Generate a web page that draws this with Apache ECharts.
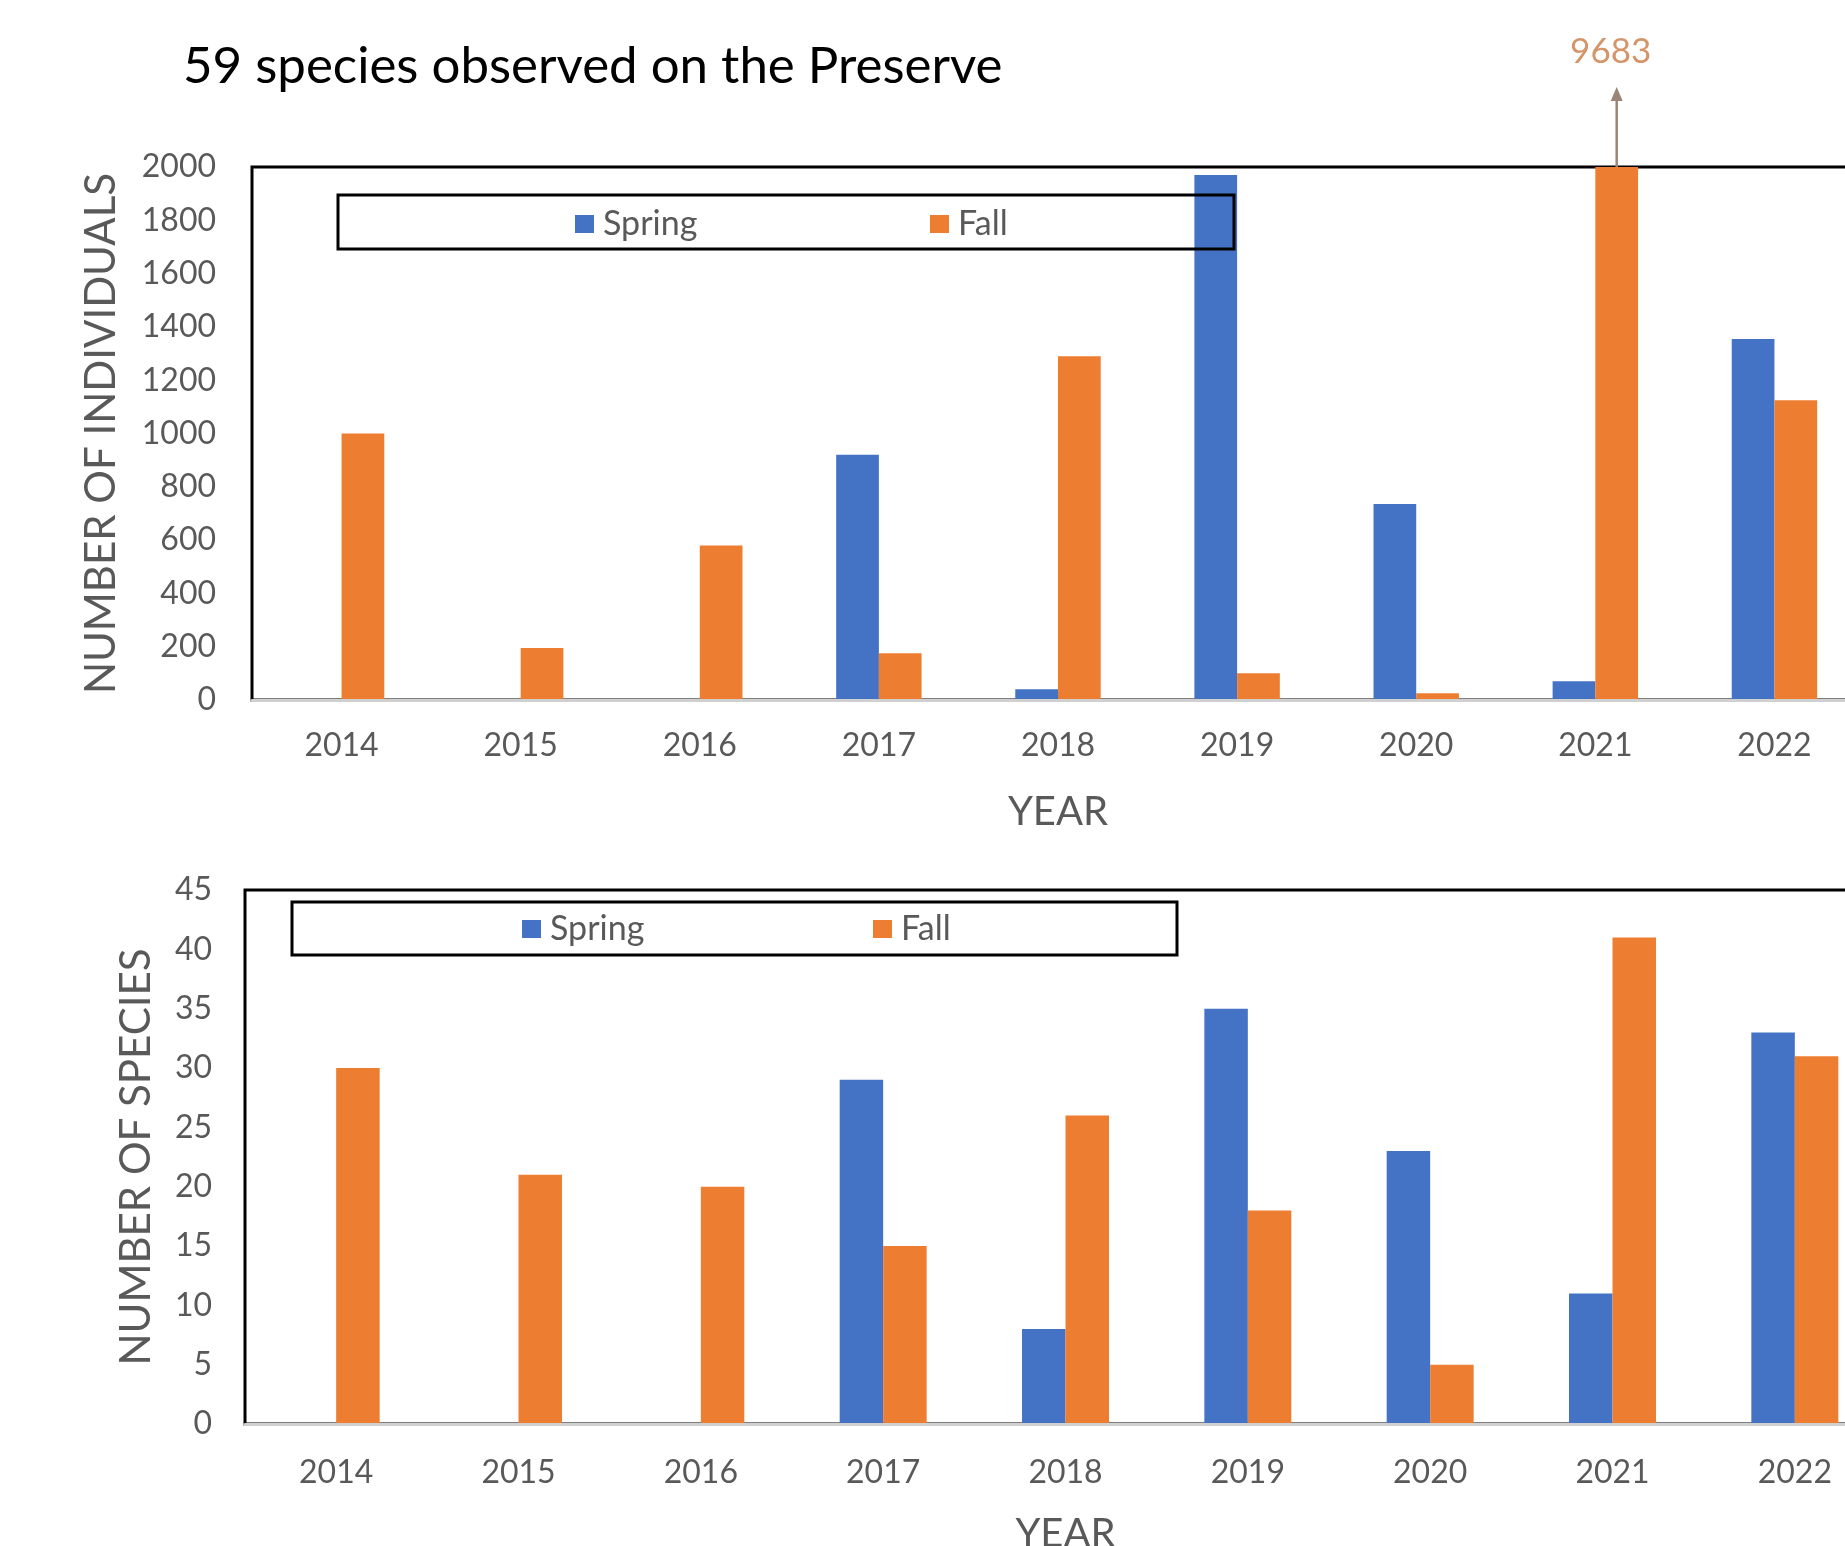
<!DOCTYPE html>
<html>
<head>
<meta charset="utf-8">
<script src="https://cdn.jsdelivr.net/npm/echarts@6/dist/echarts.min.js"></script>
<style>
  html, body { margin: 0; padding: 0; background: #fff; }
  #chart { width: 1845px; height: 1546px; }
</style>
</head>
<body>
<div id="chart"></div>
<script>
// Survey years
const years = ['2014', '2015', '2016', '2017', '2018', '2019', '2020', '2021', '2022'];

// Number of individuals counted per season
const individualsSpring = [null, null, null, 920, 40, 1970, 735, 70, 1355];
const individualsFall   = [1000, 195, 580, 175, 1290, 100, 25, 9683, 1125];

// Number of species recorded per season
const speciesSpring = [null, null, null, 29, 8, 35, 23, 11, 33];
const speciesFall   = [30, 21, 20, 15, 26, 18, 5, 41, 31];

// Value axis ranges
const individualsAxis = { min: 0, max: 2000, interval: 200 };
const speciesAxis = { min: 0, max: 45, interval: 5 };

const FONT = 'Lato, "Open Sans", sans-serif';
const GREY = '#595959';
const BLUE = '#4472C4';
const ORANGE = '#ED7D31';

const chart = echarts.init(document.getElementById('chart'), null, { renderer: 'canvas' });

function categoryAxis(gridIndex, labelMargin, nameGap) {
  return {
    gridIndex,
    type: 'category',
    data: years,
    z: 5,
    axisLine: { show: true, lineStyle: { color: '#D0D0D0', width: 3 } },
    axisTick: { show: false },
    axisLabel: { color: GREY, fontSize: 32, fontFamily: FONT, margin: labelMargin },
    name: 'YEAR',
    nameLocation: 'middle',
    nameGap,
    nameTextStyle: { color: GREY, fontSize: 40, fontFamily: FONT }
  };
}

function valueAxis(gridIndex, range, name, nameGap, labelMargin) {
  return {
    gridIndex,
    type: 'value',
    min: range.min,
    max: range.max,
    interval: range.interval,
    axisLine: { show: false },
    axisTick: { show: false },
    splitLine: { show: false },
    axisLabel: { color: GREY, fontSize: 32, fontFamily: FONT, margin: labelMargin,
                 formatter: v => String(v) },
    name,
    nameLocation: 'middle',
    nameGap,
    nameTextStyle: { color: GREY, fontSize: 42, fontFamily: FONT }
  };
}

function barSeries(name, color, data, axisIndex) {
  return {
    name,
    type: 'bar',
    xAxisIndex: axisIndex,
    yAxisIndex: axisIndex,
    data,
    barGap: '0%',
    barCategoryGap: '52.3%',
    itemStyle: { color },
    emphasis: { disabled: true },
    animation: false
  };
}

function seasonLegend(id, name, left, top) {
  return {
    id,
    data: [name],
    left,
    top,
    orient: 'horizontal',
    icon: 'rect',
    itemWidth: 19,
    itemHeight: 18,
    padding: 0,
    selectedMode: false,
    textStyle: { color: GREY, fontSize: 34, fontFamily: FONT, lineHeight: 36, padding: [0, 0, 0, 4] }
  };
}

const legendBoxes = [
  { id: 'box-top', type: 'rect', z: 100, shape: { x: 338, y: 195, width: 896, height: 54 },
    style: { fill: 'none', stroke: '#000', lineWidth: 3 } },
  { id: 'box-bottom', type: 'rect', z: 100, shape: { x: 292, y: 902, width: 885, height: 53 },
    style: { fill: 'none', stroke: '#000', lineWidth: 3 } }
];

chart.setOption({
  animation: false,
  backgroundColor: '#fff',
  title: {
    text: '59 species observed on the Preserve',
    left: 178,
    top: 36,
    textStyle: { color: '#000', fontSize: 51, fontWeight: 'normal', fontFamily: FONT }
  },
  grid: [
    { left: 252, right: -19, top: 167, bottom: 846, outerBoundsMode: 'none', containLabel: false,
      show: true, borderColor: '#000', borderWidth: 3, backgroundColor: 'transparent' },
    { left: 245, right: -41, top: 890, bottom: 122, outerBoundsMode: 'none', containLabel: false,
      show: true, borderColor: '#000', borderWidth: 3, backgroundColor: 'transparent' }
  ],
  legend: [
    seasonLegend('lg-top-spring', 'Spring', 575, 206),
    seasonLegend('lg-top-fall', 'Fall', 930, 206),
    seasonLegend('lg-bot-spring', 'Spring', 522, 911),
    seasonLegend('lg-bot-fall', 'Fall', 873, 911)
  ],
  xAxis: [
    categoryAxis(0, 30, 92),
    categoryAxis(1, 33, 90)
  ],
  yAxis: [
    valueAxis(0, individualsAxis, 'NUMBER OF INDIVIDUALS', 130, 36),
    valueAxis(1, speciesAxis, 'NUMBER OF SPECIES', 88, 33)
  ],
  series: [
    barSeries('Spring', BLUE, individualsSpring, 0),
    barSeries('Fall', ORANGE, individualsFall, 0),
    barSeries('Spring', BLUE, speciesSpring, 1),
    barSeries('Fall', ORANGE, speciesFall, 1)
  ],
  graphic: { elements: legendBoxes }
});

// Off-scale fall count: arrow above the clipped bar with its true value
const peakIdx = individualsFall.findIndex(v => v > individualsAxis.max);
if (peakIdx >= 0) {
  const layout = chart.getModel().getSeriesByIndex(1).getData().getItemLayout(peakIdx);
  const cx = layout.x + layout.width / 2;
  const yTop = chart.convertToPixel({ yAxisIndex: 0 }, individualsAxis.max);
  const arrowColor = '#9A8576';
  chart.setOption({
    graphic: {
      elements: legendBoxes.concat([
        { id: 'peak-shaft', type: 'line', z: 100,
          shape: { x1: cx, y1: yTop, x2: cx, y2: yTop - 68 },
          style: { stroke: arrowColor, lineWidth: 2.5 } },
        { id: 'peak-head', type: 'polygon', z: 100,
          shape: { points: [[cx, yTop - 80], [cx - 6, yTop - 66], [cx + 6, yTop - 66]] },
          style: { fill: arrowColor } },
        { id: 'peak-label', type: 'text', z: 100,
          x: cx - 6, y: yTop - 115,
          style: { text: String(individualsFall[peakIdx]), fill: '#D4956A', fontSize: 35, fontFamily: FONT,
                   align: 'center', verticalAlign: 'middle' } }
      ])
    }
  });
}
</script>
</body>
</html>
